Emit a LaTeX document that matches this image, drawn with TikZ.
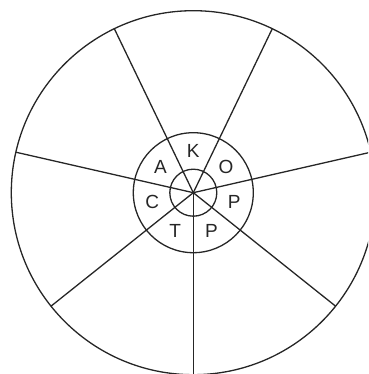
\documentclass[tikz,border=0pt]{standalone}
\usepackage{fontspec}
\setmainfont{Liberation Sans}
\usetikzlibrary{calc}
\begin{document}
\begin{tikzpicture}[x=1pt,y=1pt,
  ring/.style={line width=1.3pt,draw=black!85},
  spoke/.style={line width=1.3pt,draw=black!85},
  lbl/.style={font=\fontsize{19}{19}\selectfont,text=black!85,inner sep=0pt}]
\useasboundingbox (0,0) rectangle (368,374);
\clip (0,0) rectangle (368,374);
\coordinate (c) at (193.3,181.3);
\draw[ring] (c) circle[radius=182];
\draw[ring] (c) circle[radius=60];
\draw[ring] (c) circle[radius=23.5];
\foreach \i in {0,...,6} {
  \coordinate (s\i) at ($(c)+({270-\i*360/7}:182)$);
  \draw[spoke] (c) -- (s\i);
}
\node[lbl] (k)  at ($(c)+(90:42)$) {K};
\node[lbl] (a)  at ($(c)+({90+360/7}:42)$) {A};
\node[lbl] (cc) at ($(c)+({90+2*360/7}:42)$) {C};
\node[lbl] (t)  at ($(c)+({90+3*360/7}:42)$) {T};
\node[lbl] (p1) at ($(c)+({90+4*360/7}:42)$) {P};
\node[lbl] (p2) at ($(c)+({90+5*360/7}:42)$) {P};
\node[lbl] (o)  at ($(c)+({90+6*360/7}:42)$) {O};
\end{tikzpicture}
\end{document}
